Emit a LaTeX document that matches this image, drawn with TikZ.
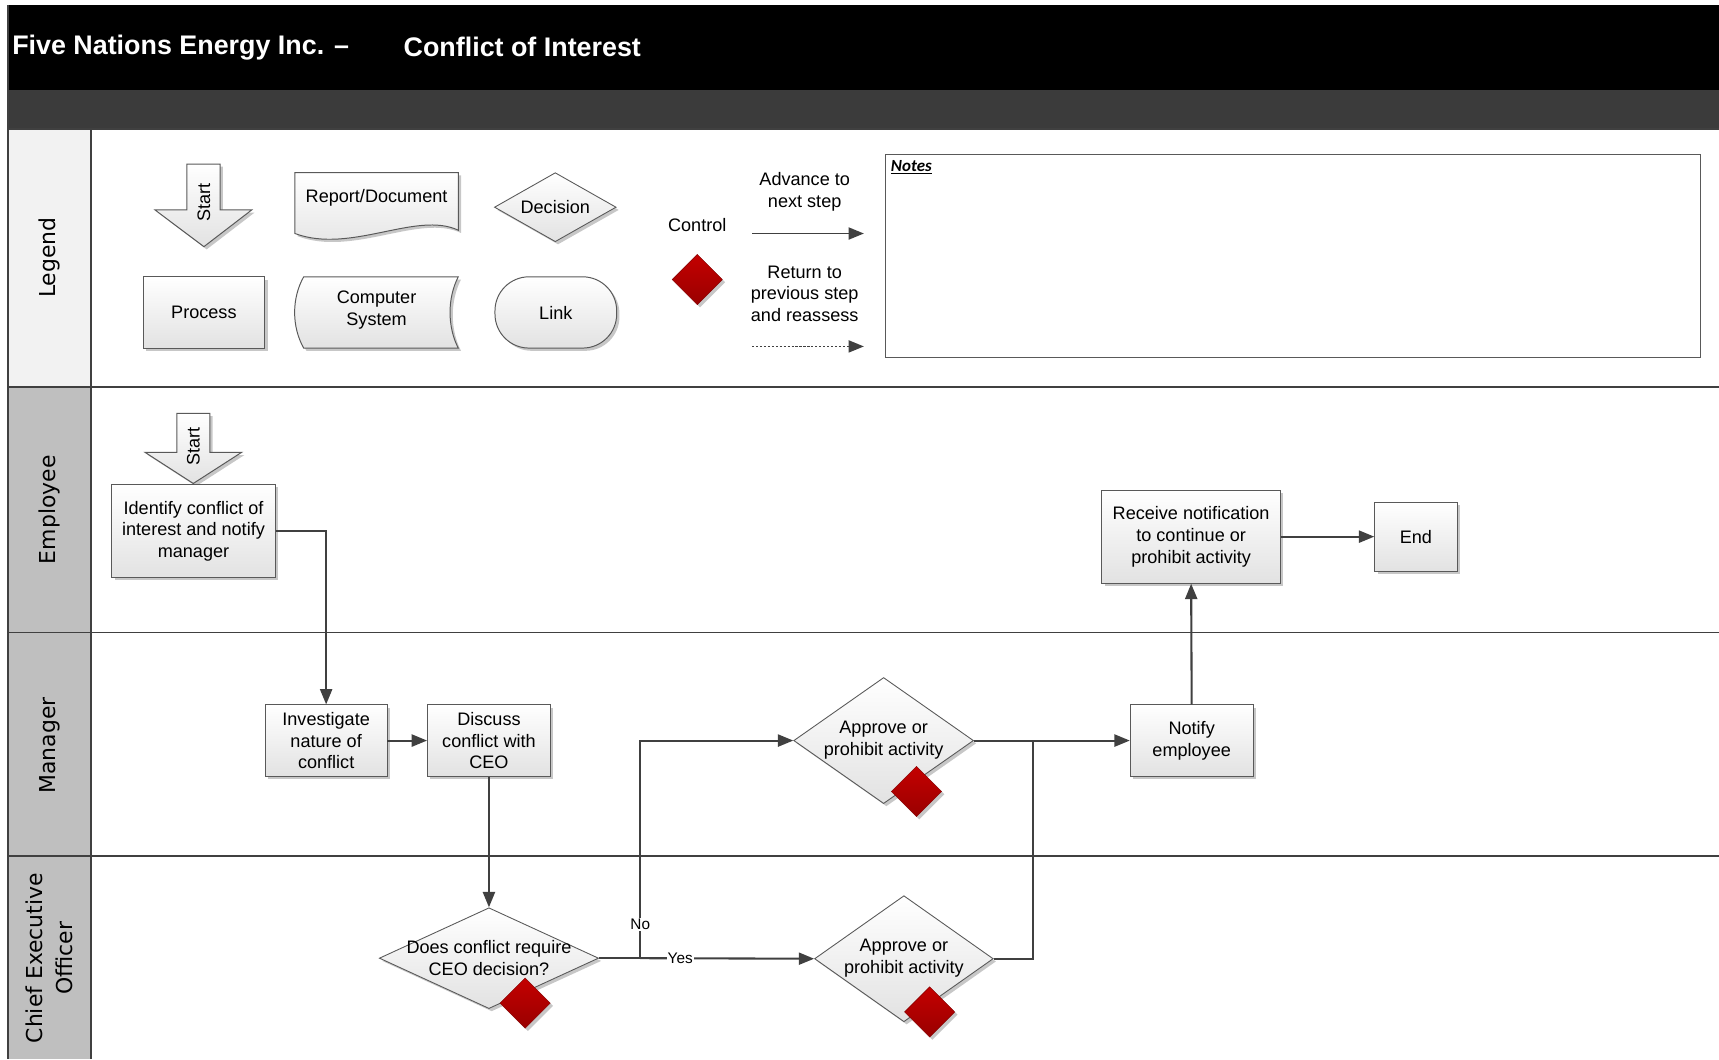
\documentclass[tikz,border=0pt]{standalone}
\usepackage{fontspec}
\setmainfont{Liberation Sans}
\newfontfamily\lanefont{DejaVu Sans}
\newfontfamily\notefont{Carlito}
\usetikzlibrary{arrows.meta,shapes.geometric,shadows}

\definecolor{linegray}{HTML}{404040}
\definecolor{edgegray}{HTML}{595959}
\definecolor{lanegray}{HTML}{BFBFBF}
\definecolor{legendcol}{HTML}{F2F2F2}
\definecolor{bardark}{HTML}{3B3B3B}
\definecolor{ctrltop}{HTML}{C40000}
\definecolor{ctrlbot}{HTML}{990000}
\definecolor{boxbot}{HTML}{E2E2E2}

\newcommand{\nodefs}{\fontsize{16.5}{19.8}\selectfont}
\newcommand{\smallfs}{\fontsize{14}{17}\selectfont}
\newcommand{\lanefs}{\lanefont\fontsize{20}{28}\selectfont}
\newcommand{\titlefs}{\fontsize{24.5}{29}\selectfont\bfseries}

\tikzset{
  boxshadow/.style={drop shadow={shadow xshift=2.5pt,shadow yshift=-2.5pt,opacity=0.22,fill=black}},
  shapefill/.style={draw=edgegray, line width=0.9pt, top color=white, bottom color=boxbot, boxshadow},
  procbox/.style={rectangle, shapefill, align=center, font=\nodefs, inner sep=1pt},
  decbox/.style={diamond, shapefill, line width=0.8pt, inner sep=0pt},
  ctrl/.style={diamond, draw=ctrlbot!85!black, line width=0.4pt, top color=ctrltop, bottom color=ctrlbot,
    boxshadow, minimum width=46pt, minimum height=46pt, inner sep=0pt},
  txt/.style={align=center, font=\nodefs, inner sep=0pt},
  flow/.style={draw=linegray, line width=1.9pt, -{Triangle[length=14pt,width=11pt]}},
  plainline/.style={draw=linegray, line width=1.9pt},
  lanelabel/.style={rotate=90, font=\lanefs, align=center, inner sep=0pt},
  laneline/.style={draw=linegray, line width=1.6pt},
  branchlabel/.style={font=\smallfs, fill=white, inner sep=1pt},
}

\begin{document}
\begin{tikzpicture}[x=1pt, y=-1pt]
\useasboundingbox (0,0) rectangle (1568,966);

% ---------- header bars ----------
\fill[black] (7,5) rectangle (1568,82);
\fill[bardark] (7,82) rectangle (1568,118);
\node[anchor=west, text=white, font=\titlefs, inner sep=0pt] (ttlA) at (11,43) {Five Nations Energy Inc. –};
\node[anchor=west, text=white, font=\titlefs, inner sep=0pt] (ttlB) at (368,43) {Conflict of Interest};

% ---------- swimlane frames ----------
\fill[legendcol] (7,118) rectangle (83,353);
\fill[lanegray] (7,353) rectangle (83,577);
\fill[lanegray] (7,577) rectangle (83,781);
\fill[lanegray] (7,781) rectangle (83,966);
\draw[laneline] (7,118) -- (1568,118);
\draw[laneline] (7,353) -- (1568,353);
\draw[laneline] (7,577) -- (1568,577);
\draw[laneline] (7,781) -- (1568,781);
\draw[laneline] (83,118) -- (83,966);
\draw[laneline] (7,5) -- (7,966);

\node[lanelabel] (laneLegend) at (45,235) {Legend};
\node[lanelabel] (laneEmp) at (45,465) {Employee};
\node[lanelabel] (laneMgr) at (45,680) {Manager};
\node[lanelabel] (laneCEO) at (45,874) {Chief Executive\\Officer};

% ---------- legend ----------
\path[shapefill] (170.5,149.6) -- (200.7,149.6) -- (200.7,191.5) -- (229.6,191.5) -- (186,225)
  -- (141.4,191.5) -- (170.5,191.5) -- cycle;
\node[txt, rotate=90] (legStart) at (186,185) {Start};

\path[shapefill] (269,157.5) -- (418,157.5) -- (418,210) .. controls (380,192) and (320,232) .. (269,213) -- cycle;
\node[txt] (legDoc) at (343.5,180) {Report/Document};

\node[decbox, minimum width=111pt, minimum height=63pt] (legDec) at (506.5,189) {};
\node[txt] (legDecT) at (506.5,189) {Decision};

\node[procbox, minimum width=111pt, minimum height=65pt] (legProc) at (186,285) {Process};

\path[shapefill] (277,252.5) -- (418,252.5) .. controls (408,272) and (408,298) .. (418,317.5)
  -- (277,317.5) .. controls (266,298) and (266,272) .. (277,252.5) -- cycle;
\node[txt] (legComp) at (343.5,283) {Computer\\System};

\node[rectangle, shapefill, rounded corners=31pt, minimum width=111pt, minimum height=65pt,
  font=\nodefs] (legLink) at (507,285) {Link};

\node[txt] (legCtrlT) at (636,205) {Control};
\node[ctrl] (legCtrl) at (636,255) {};

\node[txt] (legAdv) at (734,175) {Advance to\\next step};
\coordinate (advA) at (686,213);
\coordinate (advB) at (788,213);
\draw[flow, line width=1.7pt] (advA) -- (advB);

\node[txt] (legRet) at (734,268) {Return to\\previous step\\and reassess};
\coordinate (retA) at (686,316);
\coordinate (retB) at (788,316);
\draw[flow, line width=1.7pt, dash pattern=on 2pt off 1.6pt] (retA) -- (retB);

\node[draw=edgegray, line width=1pt, minimum width=743pt, minimum height=185pt, inner sep=0pt]
  (notes) at (1179.5,233.5) {};
\node[anchor=north west, inner sep=0pt, font=\notefont\fontsize{15.5}{18}\selectfont\bfseries\itshape]
  (notesT) at (812.5,146) {\underline{Notes}};

% ---------- Employee lane ----------
\path[shapefill] (161.3,377) -- (191.5,377) -- (191.5,412.6) -- (220.4,412.6) -- (176.3,441)
  -- (132.3,412.6) -- (161.3,412.6) -- cycle;
\node[txt, rotate=90] (empStart) at (176.4,407) {Start};

\node[procbox, minimum width=149pt, minimum height=85pt] (ident) at (176.5,484.5)
  {Identify conflict of\\interest and notify\\manager};
\node[procbox, minimum width=163pt, minimum height=85pt] (recv) at (1086.5,489.5)
  {Receive notification\\to continue or\\prohibit activity};
\node[procbox, minimum width=75pt, minimum height=63pt] (endbox) at (1291.5,489.5) {End};

% ---------- Manager lane ----------
\node[procbox, minimum width=111pt, minimum height=65pt] (invest) at (297.5,675.5)
  {Investigate\\nature of\\conflict};
\node[procbox, minimum width=112pt, minimum height=65pt] (discuss) at (446,675.5)
  {Discuss\\conflict with\\CEO};
\node[decbox, minimum width=164pt, minimum height=115pt] (apprM) at (806,675.5) {};
\node[txt] (apprMT) at (806,675) {Approve or\\prohibit activity};
\node[procbox, minimum width=112pt, minimum height=65pt] (notify) at (1087,675.5)
  {Notify\\employee};

% ---------- CEO lane ----------
\node[decbox, minimum width=200pt, minimum height=92pt] (ceoq) at (446,874) {};
\node[txt] (ceoqT) at (446,874) {Does conflict require\\CEO decision?};
\node[decbox, minimum width=163pt, minimum height=115pt] (apprC) at (824.5,874.5) {};
\node[txt] (apprCT) at (824.5,874) {Approve or\\prohibit activity};

% ---------- connectors ----------
\coordinate (split) at (584,874);
\coordinate (merge) at (942,675.5);

\draw[flow] (ident.east) -| (invest.north);
\draw[flow] (invest.east) -- (discuss.west);
\draw[flow] (discuss.south) -- (ceoq.north);
\draw[plainline] (ceoq.east) -- (split);
\draw[flow] (split) |- node[branchlabel, pos=0.078] {No} (apprM.west);
\draw[flow] (split) -- node[branchlabel, pos=0.23] {Yes} (apprC.west);
\draw[flow] (apprM.east) -- (notify.west);
\draw[plainline] (apprC.east) -| (merge);
\draw[flow] (notify.north) -- (recv.south);
\draw[flow] (recv.east) -- (endbox.west);

% control markers on the decisions
\node[ctrl] (ctrlM) at (836,722) {};
\node[ctrl] (ctrlQ) at (479,915) {};
\node[ctrl] (ctrlC) at (848,923) {};
\end{tikzpicture}
\end{document}
